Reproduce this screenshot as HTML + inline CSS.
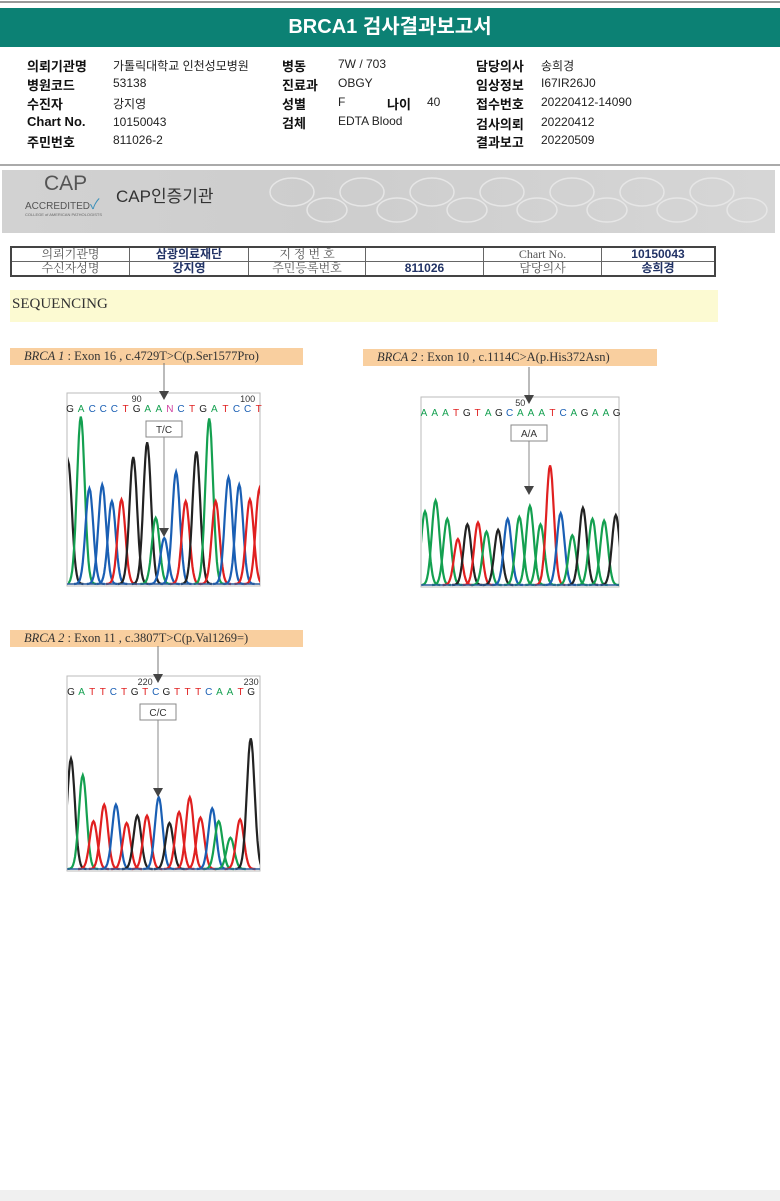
<!DOCTYPE html>
<html><head><meta charset="utf-8">
<style>
body{margin:0;width:780px;height:1201px;position:relative;background:#fff;overflow:hidden;font-family:"Liberation Sans","Noto Sans CJK KR",sans-serif;}
.a{position:absolute;white-space:nowrap;}
.lb{font-weight:bold;font-size:13px;color:#111;}
.v{font-size:12px;color:#222;}
table.t{position:absolute;left:10px;top:246px;width:706px;border-collapse:collapse;border:2px solid #444;font-family:"Liberation Serif","Noto Serif CJK SC",serif;font-size:12px;}
table.t td{border:1px solid #666;height:13px;padding:0;text-align:center;line-height:13px;color:#555;}
table.t td.b{font-weight:bold;color:#223366;font-family:"Liberation Sans","Noto Sans CJK KR",sans-serif;}
.tag{position:absolute;background:#f9cf9f;font-family:"Liberation Serif",serif;font-size:12.5px;color:#333;line-height:17px;padding-left:14px;}
</style></head><body>
<div class="a" style="left:0;top:1px;width:780px;height:2px;background:#999"></div>
<div class="a" style="left:0;top:8px;width:780px;height:39px;background:#0c8174;color:#fff;font-weight:bold;font-size:20px;text-align:center;line-height:39px">BRCA1 검사결과보고서</div>

<div>
<div class="a lb" style="left:27px;top:56px">의뢰기관명</div><div class="a v" style="left:113px;top:57px">가톨릭대학교 인천성모병원</div>
<div class="a lb" style="left:27px;top:75px">병원코드</div><div class="a v" style="left:113px;top:76px">53138</div>
<div class="a lb" style="left:27px;top:94px">수진자</div><div class="a v" style="left:113px;top:95px">강지영</div>
<div class="a lb" style="left:27px;top:114px">Chart No.</div><div class="a v" style="left:113px;top:115px">10150043</div>
<div class="a lb" style="left:27px;top:132px">주민번호</div><div class="a v" style="left:113px;top:133px">811026-2</div>
<div class="a lb" style="left:282px;top:56px">병동</div><div class="a v" style="left:338px;top:57px">7W / 703</div>
<div class="a lb" style="left:282px;top:75px">진료과</div><div class="a v" style="left:338px;top:76px">OBGY</div>
<div class="a lb" style="left:282px;top:94px">성별</div><div class="a v" style="left:338px;top:95px">F</div>
<div class="a lb" style="left:387px;top:94px">나이</div><div class="a v" style="left:427px;top:95px">40</div>
<div class="a lb" style="left:282px;top:113px">검체</div><div class="a v" style="left:338px;top:114px">EDTA Blood</div>
<div class="a lb" style="left:476px;top:56px">담당의사</div><div class="a v" style="left:541px;top:57px">송희경</div>
<div class="a lb" style="left:476px;top:75px">임상정보</div><div class="a v" style="left:541px;top:76px">I67IR26J0</div>
<div class="a lb" style="left:476px;top:94px">접수번호</div><div class="a v" style="left:541px;top:95px">20220412-14090</div>
<div class="a lb" style="left:476px;top:114px">검사의뢰</div><div class="a v" style="left:541px;top:115px">20220412</div>
<div class="a lb" style="left:476px;top:132px">결과보고</div><div class="a v" style="left:541px;top:133px">20220509</div>
</div>
<div class="a" style="left:0;top:164px;width:780px;height:2px;background:#aaa"></div>

<div class="a" style="left:2px;top:170px;width:773px;height:63px;background:linear-gradient(90deg,#d2d2d2,#cdcdcd 40%,#d6d6d6);overflow:hidden">
 <div class="a" style="left:42px;top:2px;font-size:21px;color:#555">CAP</div>
 <div class="a" style="left:23px;top:24px;font-size:10px;color:#555">ACCREDITED<span style="color:#3a8fb8;font-size:14px">✓</span></div>
 <div class="a" style="left:23px;top:42px;font-size:4px;color:#666">COLLEGE of AMERICAN PATHOLOGISTS</div>
 <div class="a" style="left:114px;top:12px;font-size:17px;color:#333">CAP인증기관</div>
 <svg class="a" style="left:260px;top:0" width="513" height="63">
  <g fill="none" stroke="#e6e6e6" stroke-width="1.5">
   <ellipse cx="30" cy="22" rx="22" ry="14"/><ellipse cx="100" cy="22" rx="22" ry="14"/><ellipse cx="170" cy="22" rx="22" ry="14"/><ellipse cx="240" cy="22" rx="22" ry="14"/><ellipse cx="310" cy="22" rx="22" ry="14"/><ellipse cx="380" cy="22" rx="22" ry="14"/><ellipse cx="450" cy="22" rx="22" ry="14"/>
   <ellipse cx="65" cy="40" rx="20" ry="12"/><ellipse cx="135" cy="40" rx="20" ry="12"/><ellipse cx="205" cy="40" rx="20" ry="12"/><ellipse cx="275" cy="40" rx="20" ry="12"/><ellipse cx="345" cy="40" rx="20" ry="12"/><ellipse cx="415" cy="40" rx="20" ry="12"/><ellipse cx="485" cy="40" rx="20" ry="12"/>
  </g>
 </svg>
</div>

<table class="t">
<tr><td style="width:117px">의뢰기관명</td><td class="b" style="width:118px">삼광의료재단</td><td style="width:116px">지 정 번 호</td><td style="width:117px"></td><td style="width:117px">Chart No.</td><td class="b">10150043</td></tr>
<tr><td>수신자성명</td><td class="b">강지영</td><td>주민등록번호</td><td class="b">811026</td><td>담당의사</td><td class="b">송희경</td></tr>
</table>

<div class="a" style="left:10px;top:290px;width:706px;height:32px;background:#fcfad2;font-family:'Liberation Serif',serif;font-size:15px;line-height:28px;color:#333;padding-left:2px">SEQUENCING</div>

<div class="tag" style="left:10px;top:348px;width:279px"><i>BRCA 1</i> : Exon 16 , c.4729T&gt;C(p.Ser1577Pro)</div>
<div class="tag" style="left:363px;top:349px;width:280px"><i>BRCA 2</i> : Exon 10 , c.1114C&gt;A(p.His372Asn)</div>
<div class="tag" style="left:10px;top:630px;width:279px"><i>BRCA 2</i> : Exon 11 , c.3807T&gt;C(p.Val1269=)</div>

<svg id="chroms" class="a" style="left:0;top:0" width="780" height="1201"></svg>
<div class="a" style="left:0;top:1190px;width:780px;height:11px;background:#f0f0f0"></div>

<script>
// Chart 1: BRCA1 Exon16
const seq1 = "GACCCTGAANCTGATCCT";
const ticks1 = [{label:"90", base:6}, {label:"100", base:16}];
const pos1 = [0,1.2,2.0,3.2,4.1,5.0,6.1,7.4,8.2,9.0,10.1,11.0,12.0,13.2,13.8,15.0,16.0,17.0,17.9];
const hgt1 = [0.67,0.91,0.52,0.54,0.45,0.46,0.69,0.77,0.36,0.25,0.61,0.45,0.72,0.90,0.45,0.58,0.54,0.46,0.52];
const base1 = "GACCCTGGACCTGATCCTT";
// Chart 2: BRCA2 Exon10
const seq2 = "AAATGTAGCAAATCAGAAG";
const ticks2 = [{label:"50", base:9}];
const pos2 = [0,1.0,2.1,3.1,4.0,5.0,5.8,6.9,7.8,8.9,9.9,10.9,11.8,12.8,13.9,14.9,15.8,16.9,18.0];
const hgt2 = [0.40,0.46,0.36,0.25,0.33,0.34,0.29,0.30,0.36,0.37,0.43,0.33,0.65,0.39,0.27,0.42,0.36,0.35,0.38];
const base2 = "AAATGTAGCAAATCAGAAG";
// Chart 3: BRCA2 Exon11
const seq3 = "GATTCTGTCGTTTCAATG";
const ticks3 = [{label:"220", base:7}, {label:"230", base:17}];
const pos3 = [0,1.1,2.1,3.1,4.2,5.2,6.2,7.1,8.2,9.2,10.1,11.1,12.1,13.2,13.8,14.9,15.8,16.8];
const hgt3 = [0.60,0.51,0.26,0.35,0.35,0.25,0.29,0.29,0.39,0.25,0.31,0.39,0.28,0.33,0.26,0.17,0.27,0.71];
const base3 = "GATTCTGTCGTTTCAATG";

const COL = {A:"#14a050",C:"#1a5fb4",G:"#222222",T:"#e02020",N:"#d040a0"};
const NS = "http://www.w3.org/2000/svg";
const svg = document.getElementById('chroms');
function mk(tag, attrs, parent){const e=document.createElementNS(NS,tag);for(const k in attrs)e.setAttribute(k,attrs[k]);(parent||svg).appendChild(e);return e;}

function chart(cfg, seq, ticks, pos, hgt, bases, idx){
  const x = b => cfg.x0 + b*cfg.step;
  const y = v => cfg.base - v*184;
  const box = mk('rect',{x:cfg.bx,y:cfg.top,width:cfg.bw,height:cfg.base+2-cfg.top,fill:'#fff',stroke:'#bbb','stroke-width':1});
  
  
  const cp=mk('clipPath',{id:'cp'+idx});
  mk('rect',{x:cfg.bx+1,y:cfg.top,width:cfg.bw-1,height:cfg.base+2-cfg.top},cp);
  const g=mk('g',{'clip-path':'url(#cp'+idx+')'});
  for(let i=0;i<pos.length;i++){
    const c=pos[i], h=hgt[i], s=cfg.step*0.36;
    let d='';
    for(let k=-16;k<=16;k++){const u=k*0.25;const xx=x(c)+u*s;const vv=h*Math.exp(-u*u/2);d+=(k==-16?'M':'L')+xx.toFixed(1)+','+y(vv).toFixed(1);}
    const p=mk('path',{d:d,fill:'none',stroke:COL[bases[i]],'stroke-width':2.2},g);
    
    
  }
  const bl=mk('line',{x1:cfg.bx,x2:cfg.bx+cfg.bw,y1:cfg.base,y2:cfg.base,stroke:'#2a5a9a','stroke-width':1.5});
  
  
  for(let i=0;i<seq.length;i++){
    const t=mk('text',{x:cfg.lx0+i*cfg.lstep,y:cfg.top+19,'font-size':10,'font-family':'Liberation Sans,sans-serif',fill:COL[seq[i]],'text-anchor':'middle'});
    t.textContent=seq[i];
    
    
  }
  ticks.forEach(tk=>{
    const t=mk('text',{x:cfg.lx0+tk.base*cfg.lstep,y:cfg.top+9,'font-size':9,'font-family':'Liberation Sans,sans-serif',fill:'#333','text-anchor':'middle'});
    t.textContent=tk.label;
    
    
  });
  const ax=cfg.ax;
  mk('line',{x1:ax,x2:ax,y1:cfg.top-30,y2:cfg.top,stroke:'#777','stroke-width':1});
  mk('polygon',{points:`${ax-5},${cfg.top-2} ${ax+5},${cfg.top-2} ${ax},${cfg.top+7}`,fill:'#444'});
  const r=mk('rect',{x:ax-18,y:cfg.top+28,width:36,height:16,fill:'#fff',stroke:'#888'});
  
  
  const gt=mk('text',{x:ax,y:cfg.top+40,'font-size':10,'font-family':'Liberation Sans,sans-serif',fill:'#333','text-anchor':'middle'});
  gt.textContent=cfg.gt;
  mk('line',{x1:ax,x2:ax,y1:cfg.top+44,y2:cfg.head-1,stroke:'#888','stroke-width':1});
  mk('polygon',{points:`${ax-5},${cfg.head-1} ${ax+5},${cfg.head-1} ${ax},${cfg.head+8}`,fill:'#444'});
}
chart({x0:68,step:10.7,bx:67,bw:193,top:393,base:584,lx0:70,lstep:11.1,ax:164,head:529,gt:'T/C'},seq1,ticks1,pos1,hgt1,base1,1);
chart({x0:425,step:10.6,bx:421,bw:198,top:397,base:585,lx0:424,lstep:10.7,ax:529,head:487,gt:'A/A'},seq2,ticks2,pos2,hgt2,base2,2);
chart({x0:71,step:10.7,bx:67,bw:193,top:676,base:869,lx0:71,lstep:10.6,ax:158,head:789,gt:'C/C'},seq3,ticks3,pos3,hgt3,base3,3);
</script>
</body></html>
